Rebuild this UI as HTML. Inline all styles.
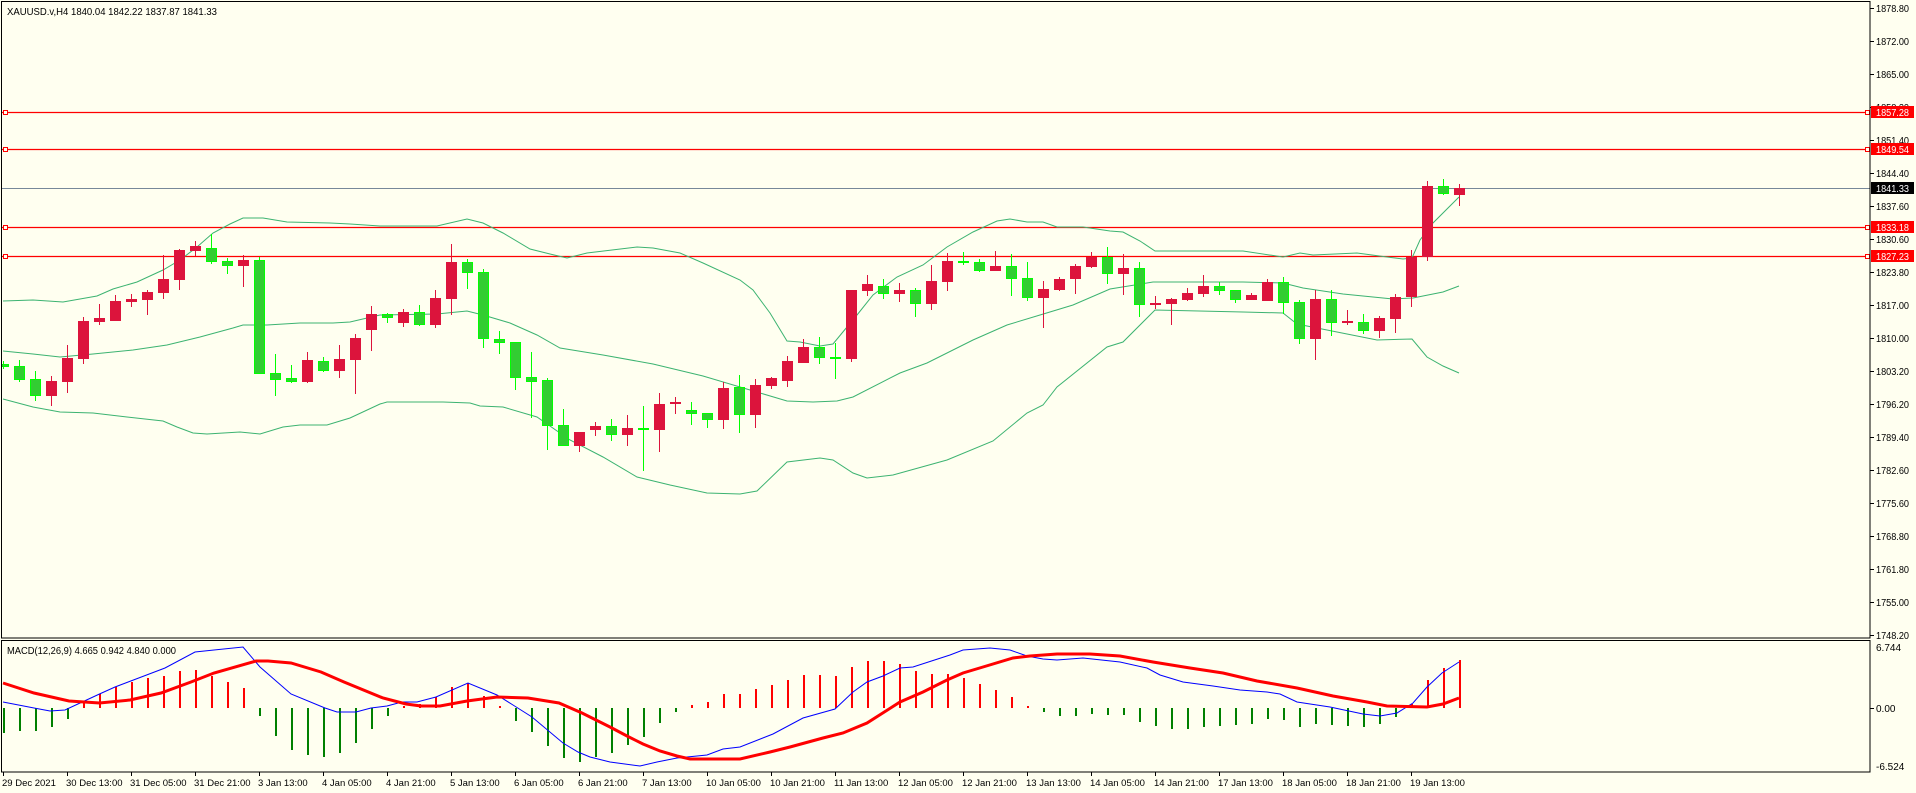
<!DOCTYPE html>
<html><head><meta charset="utf-8"><style>
html,body{margin:0;padding:0;background:#FFFFF0;}
svg{display:block;}
text{font-family:"Liberation Sans",sans-serif;fill:#000;}
</style></head><body>
<svg width="1916" height="793" viewBox="0 0 1916 793" xmlns="http://www.w3.org/2000/svg">
<rect x="0" y="0" width="1916" height="793" fill="#FFFFF0"/>
<defs>
<clipPath id="cm"><rect x="2" y="2" width="1868" height="636"/></clipPath>
<clipPath id="cd"><rect x="2" y="641" width="1868" height="131"/></clipPath>
</defs>

<g clip-path="url(#cm)">
<!-- horizontal levels -->
<g stroke="#FF0000" stroke-width="1.3" fill="none">
<line x1="0" y1="112.5" x2="1870" y2="112.5"/>
<line x1="0" y1="149.5" x2="1870" y2="149.5"/>
<line x1="0" y1="227.5" x2="1870" y2="227.5"/>
<line x1="0" y1="256.5" x2="1870" y2="256.5"/>
</g>
<line x1="0" y1="188.5" x2="1870" y2="188.5" stroke="#778899" stroke-width="1"/>
<g stroke="#FF0000" stroke-width="1" fill="#FFFFF0">
<rect x="3.5" y="110.5" width="4" height="4"/><rect x="3.5" y="147.5" width="4" height="4"/>
<rect x="3.5" y="225.5" width="4" height="4"/><rect x="3.5" y="254.5" width="4" height="4"/>
<rect x="1865.5" y="110.5" width="4" height="4"/><rect x="1865.5" y="147.5" width="4" height="4"/>
<rect x="1865.5" y="225.5" width="4" height="4"/><rect x="1865.5" y="254.5" width="4" height="4"/>
</g>

<!-- bollinger -->
<g fill="none" stroke="#3CB371" stroke-width="1">
<polyline points="3,301 33,300 63,302 97,296 113,289 137,282 163,270 180,260 197,247 213,233 230,224 243,218 263,218 287,222 330,223 350,224 380,226 437,226 467,219 483,223 503,233 530,249 550,254 567,258 587,253 637,247 653,248 680,253 703,263 740,280 753,290 770,313 787,341 800,342 820,346 833,344 847,327 857,315 873,295 897,277 923,265 947,247 973,232 997,221 1010,219 1027,222 1043,222 1057,227 1083,227 1110,231 1123,232 1140,241 1155,251 1243,251 1283,257 1300,253 1313,255 1357,253 1387,257 1403,259 1412,258 1420,240 1433,223 1459,197"/>
<polyline points="3,351 33,354 60,357 93,354 133,350 167,345 200,337 233,328 243,325 267,325 300,323 333,323 350,322 380,315 437,314 467,311 483,315 510,323 537,335 560,348 603,355 653,364 703,376 740,387 787,401 813,402 837,401 853,397 900,373 927,363 973,340 1007,325 1040,315 1073,305 1110,289 1153,282 1243,282 1283,283 1303,288 1343,294 1393,299 1413,298 1443,292 1459,286"/>
<polyline points="3,399 33,407 60,412 93,413 127,417 163,421 177,427 193,433 207,434 240,432 260,434 283,427 300,425 327,425 350,418 380,404 387,402 443,402 470,403 480,406 503,407 537,417 570,440 603,457 637,477 670,485 707,493 740,494 757,491 787,462 820,458 833,460 853,473 867,478 893,475 947,460 993,441 1027,413 1043,405 1057,387 1107,347 1123,342 1155,310 1243,312 1283,313 1297,324 1327,330 1377,340 1412,339 1427,357 1443,366 1459,373"/>
</g>

<!-- red candles -->
<path stroke="#DC143C" stroke-width="1" fill="none" d="M51.5 376V406M67.5 345V393M83.5 317V364M99.5 304V325M115.5 295V321M131.5 294V307M147.5 290V315M163.5 255V299M179.5 249V290M195.5 241V256M243.5 255V287M307.5 352V383M339.5 345V378M355.5 334V394M371.5 306V351M403.5 309V327M435.5 290V328M451.5 244V315M579.5 432V452M595.5 422V436M627.5 415V446M659.5 393V452M675.5 397V414M723.5 382V429M755.5 379V428M771.5 377V389M787.5 356V387M803.5 339V363M851.5 290V362M867.5 275V296M899.5 283V302M931.5 265V310M947.5 253V291M995.5 251V271M1043.5 281V328M1059.5 277V291M1075.5 264V294M1091.5 252V268M1123.5 254V295M1155.5 296V309M1171.5 298V325M1187.5 288V301M1203.5 275V297M1251.5 293V300M1267.5 279V301M1315.5 290V360M1347.5 310V325M1379.5 316V338M1395.5 294V333M1411.5 250V307M1427.5 181V261M1459.5 184V206"/>
<path fill="#DC143C" d="M46 381h11V396h-11zM62 358h11V382h-11zM78 321h11V359h-11zM94 318h11V322h-11zM110 301h11V321h-11zM126 299h11V302h-11zM142 292h11V300h-11zM158 279h11V293h-11zM174 250h11V280h-11zM190 246h11V251h-11zM238 260h11V266h-11zM302 360h11V382h-11zM334 359h11V371h-11zM350 338h11V360h-11zM366 314h11V330h-11zM398 312h11V323h-11zM430 298h11V325h-11zM446 262h11V299h-11zM574 432h11V446h-11zM590 426h11V430h-11zM622 428h11V435h-11zM654 404h11V430h-11zM670 402h11V404h-11zM718 388h11V420h-11zM750 385h11V415h-11zM766 378h11V386h-11zM782 361h11V381h-11zM798 347h11V363h-11zM846 290h11V359h-11zM862 284h11V291h-11zM894 290h11V294h-11zM926 281h11V304h-11zM942 261h11V282h-11zM990 266h11V271h-11zM1038 289h11V298h-11zM1054 279h11V290h-11zM1070 266h11V279h-11zM1086 257h11V267h-11zM1118 268h11V274h-11zM1150 303h11V305h-11zM1166 299h11V304h-11zM1182 293h11V300h-11zM1198 286h11V294h-11zM1246 295h11V300h-11zM1262 282h11V301h-11zM1310 299h11V339h-11zM1342 321h11V323h-11zM1374 318h11V331h-11zM1390 297h11V319h-11zM1406 257h11V297h-11zM1422 186h11V257h-11zM1454 188h11V195h-11z"/>

<!-- green candles -->
<path stroke="#00FF00" stroke-width="1" fill="none" d="M3.5 361V369M19.5 360V382M35.5 371V401M211.5 234V264M227.5 258V274M259.5 257V374M275.5 354V396M291.5 365V383M323.5 357V372M387.5 313V323M419.5 305V326M467.5 259V289M483.5 269V348M499.5 331V354M515.5 342V390M531.5 352V418M547.5 378V450M563.5 409V446M611.5 419V441M643.5 406V471M691.5 402V425M707.5 413V428M739.5 375V433M819.5 337V364M835.5 343V379M883.5 279V299M915.5 288V317M963.5 252V265M979.5 259V272M1011.5 254V296M1027.5 262V301M1107.5 247V284M1139.5 262V317M1219.5 282V295M1235.5 290V303M1283.5 277V314M1299.5 300V344M1331.5 290V336M1363.5 314V334M1443.5 179V195"/>
<path fill="#32CD32" stroke="#00FF00" stroke-width="1" d="M-1.5 364.5h10V366.5h-10zM14.5 366.5h10V379.5h-10zM30.5 379.5h10V395.5h-10zM206.5 248.5h10V261.5h-10zM222.5 261.5h10V265.5h-10zM254.5 260.5h10V373.5h-10zM270.5 373.5h10V379.5h-10zM286.5 378.5h10V381.5h-10zM318.5 361.5h10V370.5h-10zM382.5 314.5h10V317.5h-10zM414.5 312.5h10V324.5h-10zM462.5 262.5h10V272.5h-10zM478.5 272.5h10V338.5h-10zM494.5 339.5h10V342.5h-10zM510.5 342.5h10V377.5h-10zM526.5 377.5h10V381.5h-10zM542.5 380.5h10V425.5h-10zM558.5 425.5h10V445.5h-10zM606.5 426.5h10V434.5h-10zM638.5 428.5h10V429.5h-10zM686.5 410.5h10V413.5h-10zM702.5 413.5h10V419.5h-10zM734.5 387.5h10V414.5h-10zM814.5 347.5h10V357.5h-10zM830.5 357.5h10V358.5h-10zM878.5 286.5h10V293.5h-10zM910.5 290.5h10V303.5h-10zM958.5 261.5h10V262.5h-10zM974.5 262.5h10V270.5h-10zM1006.5 266.5h10V278.5h-10zM1022.5 278.5h10V297.5h-10zM1102.5 257.5h10V273.5h-10zM1134.5 268.5h10V304.5h-10zM1214.5 286.5h10V290.5h-10zM1230.5 290.5h10V299.5h-10zM1278.5 282.5h10V302.5h-10zM1294.5 302.5h10V338.5h-10zM1326.5 299.5h10V322.5h-10zM1358.5 322.5h10V330.5h-10zM1438.5 186.5h10V193.5h-10z"/>
</g>

<!-- MACD -->
<g clip-path="url(#cd)">
<path stroke="#008000" stroke-width="2" fill="none" d="M4 708V733M20 708V731M36 708V731M52 708V727M68 708V719M260 708V716M276 708V736M292 708V750M308 708V755M324 708V757M340 708V753M356 708V743M372 708V729M388 708V716M516 708V721M532 708V732M548 708V746M564 708V758M580 708V762M596 708V757M612 708V753M628 708V745M644 708V737M660 708V723M676 708V712M1044 708V712M1060 708V716M1076 708V716M1092 708V714M1108 708V715M1124 708V715M1140 708V722M1156 708V726M1172 708V729M1188 708V729M1204 708V727M1220 708V726M1236 708V725M1252 708V724M1268 708V719M1284 708V720M1300 708V727M1316 708V724M1332 708V725M1348 708V726M1364 708V727M1380 708V724M1396 708V717"/>
<path stroke="#FF0000" stroke-width="2" fill="none" d="M84 708V702M100 708V694M116 708V687M132 708V682M148 708V678M164 708V676M180 708V671M196 708V670M212 708V676M228 708V682M244 708V688M404 708V706M420 708V704M436 708V697M452 708V687M468 708V683M484 708V696M500 708V706M692 708V705M708 708V702M724 708V694M740 708V694M756 708V689M772 708V685M788 708V680M804 708V675M820 708V675M836 708V676M852 708V667M868 708V661M884 708V661M900 708V664M916 708V671M932 708V674M948 708V674M964 708V678M980 708V684M996 708V690M1012 708V697M1028 708V706M1412 708V704M1428 708V680M1444 708V668M1460 708V660"/>
<polyline fill="none" stroke="#0000FF" stroke-width="1" points="3,702 34,708 50,711 65,710 99.5,694 115,687 165,668 195,652 214,650 243,647 260,667 291,694 325,708 337,712 356,712 371,708 387,706 402,702 417,702 436,697 468,683 497,695 513,705 532,717 563,743 578,752 590,757 610,762 640,766 657,762 677,758 707,755 723,749 740,747 773,734 803,718 835,709 853,692 867,682 883,676 900,668 913,667 950,655 963,650 990,648 1010,650 1027,656 1043,659 1057,660 1083,658 1120,662 1147,668 1160,675 1183,682 1213,686 1240,690 1267,692 1280,694 1297,702 1330,707 1363,714 1380,716 1397,713 1413,703 1427,687 1442,673 1459,662"/>
<polyline fill="none" stroke="#FF0000" stroke-width="3" points="3,683 34,693 69,701 99.5,703 130,700 161,693 191,682 214,673 256,661 268,661 291,663 321,672 344,682 383,698 406,704 421,706 440,706 467,701 497,697 528,698 559,703 582,713 610,727 627,736 643,744 660,751 677,756 690,759 740,759 770,752 790,747 823,738 843,733 867,723 900,702 923,692 947,680 963,673 983,667 1013,658 1030,656 1057,654 1090,654 1120,656 1153,662 1190,668 1223,673 1257,681 1297,688 1333,696 1367,702 1387,706 1427,707 1443,704 1459,698"/>
</g>

<!-- frames -->
<g fill="none" stroke="#000" stroke-width="1">
<rect x="1.5" y="1.5" width="1868.5" height="636.5"/>
<rect x="1.5" y="640.5" width="1868.5" height="131.5"/>
</g>

<!-- price ticks -->
<g stroke="#000" stroke-width="1">
<path d="M1870 8.5h4M1870 41.5h4M1870 74.5h4M1870 107.5h4M1870 140.5h4M1870 173.5h4M1870 206.5h4M1870 239.5h4M1870 272.5h4M1870 305.5h4M1870 338.5h4M1870 371.5h4M1870 404.5h4M1870 437.5h4M1870 470.5h4M1870 503.5h4M1870 536.5h4M1870 569.5h4M1870 602.5h4M1870 635.5h4M1870 708.5h4"/>
<path d="M3.5 772v4M67.5 772v4M131.5 772v4M195.5 772v4M259.5 772v4M323.5 772v4M387.5 772v4M451.5 772v4M515.5 772v4M579.5 772v4M643.5 772v4M707.5 772v4M771.5 772v4M835.5 772v4M899.5 772v4M963.5 772v4M1027.5 772v4M1091.5 772v4M1155.5 772v4M1219.5 772v4M1283.5 772v4M1347.5 772v4M1411.5 772v4"/>
</g>

<g font-size="10" textLength="36">
<text x="1876" y="12" textLength="33" lengthAdjust="spacingAndGlyphs">1878.80</text>
<text x="1876" y="45" textLength="33" lengthAdjust="spacingAndGlyphs">1872.00</text>
<text x="1876" y="78" textLength="33" lengthAdjust="spacingAndGlyphs">1865.00</text>
<text x="1876" y="111" textLength="33" lengthAdjust="spacingAndGlyphs">1858.20</text>
<text x="1876" y="144" textLength="33" lengthAdjust="spacingAndGlyphs">1851.40</text>
<text x="1876" y="177" textLength="33" lengthAdjust="spacingAndGlyphs">1844.40</text>
<text x="1876" y="210" textLength="33" lengthAdjust="spacingAndGlyphs">1837.60</text>
<text x="1876" y="243" textLength="33" lengthAdjust="spacingAndGlyphs">1830.60</text>
<text x="1876" y="276" textLength="33" lengthAdjust="spacingAndGlyphs">1823.80</text>
<text x="1876" y="309" textLength="33" lengthAdjust="spacingAndGlyphs">1817.00</text>
<text x="1876" y="342" textLength="33" lengthAdjust="spacingAndGlyphs">1810.00</text>
<text x="1876" y="375" textLength="33" lengthAdjust="spacingAndGlyphs">1803.20</text>
<text x="1876" y="408" textLength="33" lengthAdjust="spacingAndGlyphs">1796.20</text>
<text x="1876" y="441" textLength="33" lengthAdjust="spacingAndGlyphs">1789.40</text>
<text x="1876" y="474" textLength="33" lengthAdjust="spacingAndGlyphs">1782.60</text>
<text x="1876" y="507" textLength="33" lengthAdjust="spacingAndGlyphs">1775.60</text>
<text x="1876" y="540" textLength="33" lengthAdjust="spacingAndGlyphs">1768.80</text>
<text x="1876" y="573" textLength="33" lengthAdjust="spacingAndGlyphs">1761.80</text>
<text x="1876" y="606" textLength="33" lengthAdjust="spacingAndGlyphs">1755.00</text>
<text x="1876" y="639" textLength="33" lengthAdjust="spacingAndGlyphs">1748.20</text>
<text x="1876" y="651">6.744</text>
<text x="1876" y="712">0.00</text>
<text x="1876" y="770">-6.524</text>
</g>

<!-- level labels -->
<rect x="1871" y="106" width="43" height="12" fill="#FF0000"/>
<rect x="1871" y="143" width="43" height="12" fill="#FF0000"/>
<rect x="1871" y="182" width="43" height="12" fill="#000"/>
<rect x="1871" y="221" width="43" height="12" fill="#FF0000"/>
<rect x="1871" y="250" width="43" height="12" fill="#FF0000"/>
<g font-size="10" style="fill:#fff">
<text x="1876" y="116" textLength="33" lengthAdjust="spacingAndGlyphs" style="fill:#fff">1857.28</text>
<text x="1876" y="153" textLength="33" lengthAdjust="spacingAndGlyphs" style="fill:#fff">1849.54</text>
<text x="1876" y="192" textLength="33" lengthAdjust="spacingAndGlyphs" style="fill:#fff">1841.33</text>
<text x="1876" y="231" textLength="33" lengthAdjust="spacingAndGlyphs" style="fill:#fff">1833.18</text>
<text x="1876" y="260" textLength="33" lengthAdjust="spacingAndGlyphs" style="fill:#fff">1827.23</text>
</g>

<text x="7" y="15" font-size="10" textLength="210" lengthAdjust="spacingAndGlyphs">XAUUSD.v,H4  1840.04 1842.22 1837.87 1841.33</text>
<text x="7" y="654" font-size="10" textLength="169" lengthAdjust="spacingAndGlyphs">MACD(12,26,9) 4.665 0.942 4.840 0.000</text>

<g font-size="9.5">
<text x="2" y="786">29 Dec 2021</text>
<text x="66" y="786">30 Dec 13:00</text>
<text x="130" y="786">31 Dec 05:00</text>
<text x="194" y="786">31 Dec 21:00</text>
<text x="258" y="786">3 Jan 13:00</text>
<text x="322" y="786">4 Jan 05:00</text>
<text x="386" y="786">4 Jan 21:00</text>
<text x="450" y="786">5 Jan 13:00</text>
<text x="514" y="786">6 Jan 05:00</text>
<text x="578" y="786">6 Jan 21:00</text>
<text x="642" y="786">7 Jan 13:00</text>
<text x="706" y="786">10 Jan 05:00</text>
<text x="770" y="786">10 Jan 21:00</text>
<text x="834" y="786">11 Jan 13:00</text>
<text x="898" y="786">12 Jan 05:00</text>
<text x="962" y="786">12 Jan 21:00</text>
<text x="1026" y="786">13 Jan 13:00</text>
<text x="1090" y="786">14 Jan 05:00</text>
<text x="1154" y="786">14 Jan 21:00</text>
<text x="1218" y="786">17 Jan 13:00</text>
<text x="1282" y="786">18 Jan 05:00</text>
<text x="1346" y="786">18 Jan 21:00</text>
<text x="1410" y="786">19 Jan 13:00</text>
</g>
</svg>
</body></html>
